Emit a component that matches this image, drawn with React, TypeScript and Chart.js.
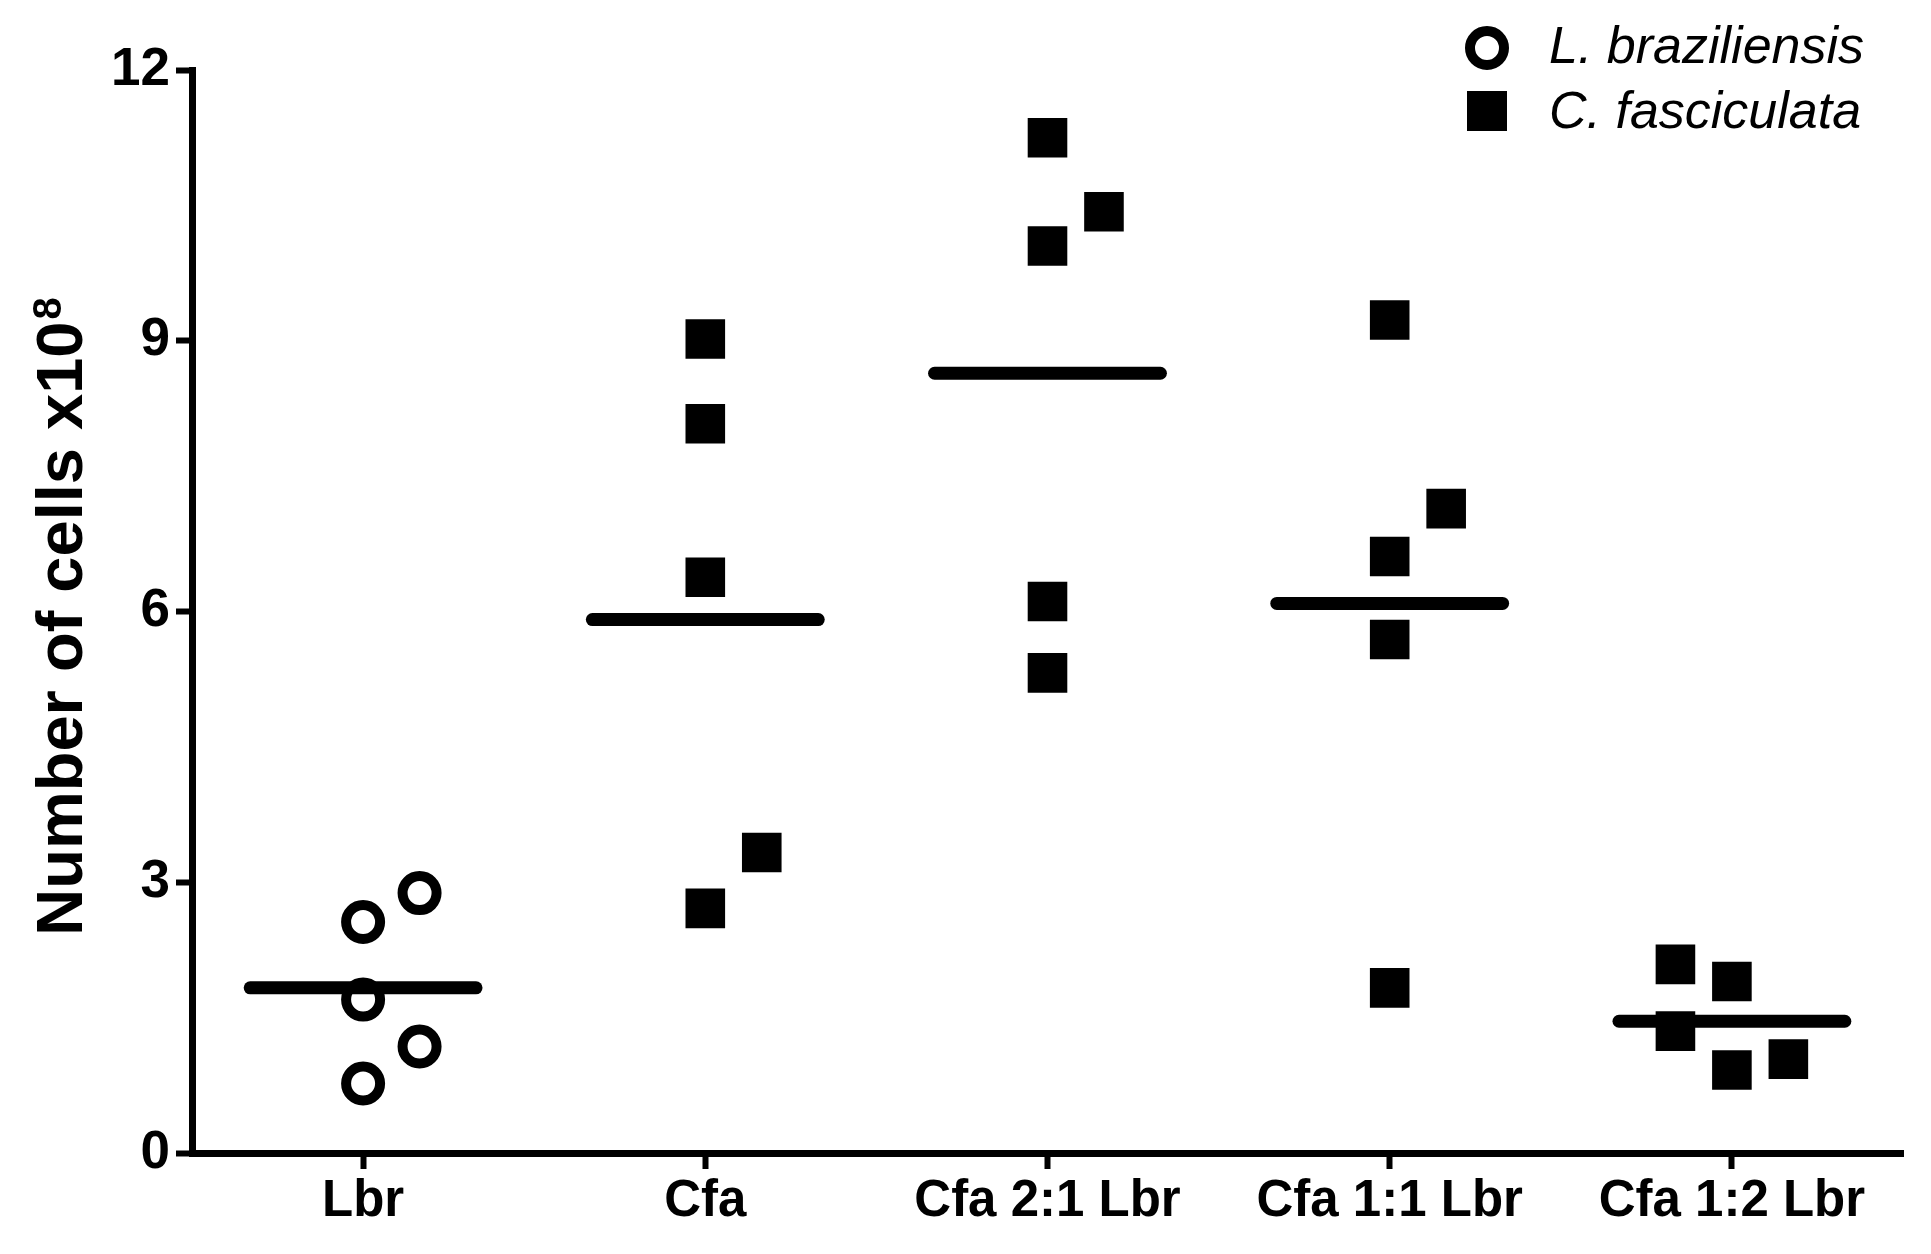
import { useEffect, useRef } from "react";
import { Chart, registerables } from "chart.js";

Chart.register(...registerables);

const CATEGORIES = ["Lbr", "Cfa", "Cfa 2:1 Lbr", "Cfa 1:1 Lbr", "Cfa 1:2 Lbr"];
const Y_TICKS = [0, 3, 6, 9, 12];
const Y_TITLE = "Number of cells x10";
const Y_TITLE_SUP = "8";
const LEGEND_LABELS = ["L. braziliensis", "C. fasciculata"];

// L. braziliensis (open circles) – only in "Lbr"
const LBR_VALUES = [2.88, 2.56, 1.7, 1.18, 0.77];
const LBR_OFFSETS = [0.165, 0, 0, 0.165, 0];

// C. fasciculata (filled squares)
const CFA_VALUES = [9.02, 8.08, 6.38, 3.33, 2.71];
const CFA_OFFSETS = [0, 0, 0, 0.165, 0];
const CFA21_VALUES = [11.25, 10.43, 10.05, 6.11, 5.32];
const CFA21_OFFSETS = [0, 0.165, 0, 0, 0];
const CFA11_VALUES = [9.23, 7.14, 6.61, 5.69, 1.83];
const CFA11_OFFSETS = [0, 0.165, 0, 0, 0];
const CFA12_VALUES = [2.09, 1.9, 1.35, 1.04, 0.92];
const CFA12_OFFSETS = [-0.165, 0, -0.165, 0.165, 0];

// group means (horizontal bars)
const MEANS = [1.83, 5.91, 8.64, 6.09, 1.46];
const MEAN_HALF_WIDTH = 0.33;

const FONT = "'Liberation Sans', Arial, sans-serif";

function points(cat: number, values: number[], offsets: number[]) {
  return values.map((v, i) => ({ x: cat + offsets[i], y: v }));
}

const legendPlugin = {
  id: "customLegend",
  afterDraw(chart: any) {
    const ctx = chart.ctx as CanvasRenderingContext2D;
    ctx.save();
    const mx = 1487;
    const rows = [48, 111];
    ctx.beginPath();
    ctx.arc(mx, rows[0], 17, 0, Math.PI * 2);
    ctx.fillStyle = "#fff";
    ctx.fill();
    ctx.lineWidth = 10;
    ctx.strokeStyle = "#000";
    ctx.stroke();
    ctx.fillStyle = "#000";
    ctx.fillRect(mx - 20, rows[1] - 20, 40, 40);
    ctx.font = `italic 52px ${FONT}`;
    ctx.textBaseline = "alphabetic";
    ctx.textAlign = "left";
    ctx.fillText(LEGEND_LABELS[0], 1549, 63);
    ctx.fillText(LEGEND_LABELS[1], 1549, 128);
    ctx.restore();
  },
};

const yTitlePlugin = {
  id: "yTitle",
  afterDraw(chart: any) {
    const ctx = chart.ctx as CanvasRenderingContext2D;
    const area = chart.chartArea;
    const cy = (area.top + area.bottom) / 2 + 5;
    ctx.save();
    ctx.fillStyle = "#000";
    ctx.textBaseline = "alphabetic";
    ctx.textAlign = "left";
    const mainFont = `bold 65px ${FONT}`;
    const supFont = `bold 40px ${FONT}`;
    ctx.font = mainFont;
    const w1 = ctx.measureText(Y_TITLE).width;
    ctx.font = supFont;
    const w2 = ctx.measureText(Y_TITLE_SUP).width;
    const total = w1 + w2 + 2;
    ctx.translate(82, cy);
    ctx.rotate(-Math.PI / 2);
    ctx.font = mainFont;
    ctx.fillText(Y_TITLE, -total / 2, 0);
    ctx.font = supFont;
    ctx.fillText(Y_TITLE_SUP, -total / 2 + w1 + 2, -21);
    ctx.restore();
  },
};

export default function App() {
  const ref = useRef<HTMLCanvasElement | null>(null);

  useEffect(() => {
    if (!ref.current) return;
    const meanSets = MEANS.map((m, i) => ({
      type: "scatter" as const,
      label: "mean " + CATEGORIES[i],
      data: [
        { x: i - MEAN_HALF_WIDTH, y: m },
        { x: i + MEAN_HALF_WIDTH, y: m },
      ],
      showLine: true,
      borderColor: "#000",
      borderWidth: 13,
      borderCapStyle: "round" as const,
      pointRadius: 0,
      order: 0,
    }));

    const chart = new Chart(ref.current, {
      type: "scatter",
      data: {
        datasets: [
          ...meanSets,
          {
            label: LEGEND_LABELS[0],
            data: points(0, LBR_VALUES, LBR_OFFSETS),
            pointStyle: "circle",
            pointRadius: 17,
            borderWidth: 10,
            borderColor: "#000",
            backgroundColor: "#fff",
            order: 1,
          },
          {
            label: LEGEND_LABELS[1],
            data: [
              ...points(1, CFA_VALUES, CFA_OFFSETS),
              ...points(2, CFA21_VALUES, CFA21_OFFSETS),
              ...points(3, CFA11_VALUES, CFA11_OFFSETS),
              ...points(4, CFA12_VALUES, CFA12_OFFSETS),
            ],
            pointStyle: "rect",
            pointRadius: 28,
            borderWidth: 0,
            borderColor: "#000",
            backgroundColor: "#000",
            order: 1,
          },
        ],
      },
      options: {
        animation: false,
        responsive: false,
        devicePixelRatio: 1,
        layout: { padding: { top: 70, right: 22, left: 0, bottom: 0 } },
        plugins: {
          legend: { display: false },
          tooltip: { enabled: false },
        },
        scales: {
          x: {
            type: "linear",
            min: -0.5,
            max: 4.5,
            afterBuildTicks: (scale: any) => {
              scale.ticks = CATEGORIES.map((_, i) => ({ value: i }));
            },
            afterFit: (scale: any) => {
              scale.height = 101;
            },
            ticks: {
              autoSkip: false,
              maxRotation: 0,
              color: "#000",
              padding: 2,
              font: { family: FONT, size: 51, weight: "bold" },
              callback: (_v: any, i: number) => CATEGORIES[i],
            },
            grid: {
              drawOnChartArea: false,
              drawTicks: true,
              tickLength: 16,
              tickWidth: 6,
              tickColor: "#000",
              color: "#000",
            },
            border: { display: true, color: "#000", width: 7 },
          },
          y: {
            type: "linear",
            min: 0,
            max: 12,
            afterBuildTicks: (scale: any) => {
              scale.ticks = Y_TICKS.map((v) => ({ value: v }));
            },
            afterFit: (scale: any) => {
              scale.width = 192;
            },
            ticks: {
              color: "#000",
              padding: 6,
              font: { family: FONT, size: 53, weight: "bold" },
              callback: (v: any) => String(v),
            },
            grid: {
              drawOnChartArea: false,
              drawTicks: true,
              tickLength: 16,
              tickWidth: 6,
              tickColor: "#000",
              color: "#000",
            },
            border: { display: true, color: "#000", width: 7 },
            title: { display: false },
          },
        },
      },
      plugins: [legendPlugin, yTitlePlugin],
    });
    return () => chart.destroy();
  }, []);

  return (
    <div
      style={{
        position: "fixed",
        left: 0,
        top: 0,
        width: 1931,
        height: 1254,
        background: "#fff",
      }}
    >
      <canvas ref={ref} width={1931} height={1254} style={{ display: "block" }} />
    </div>
  );
}
